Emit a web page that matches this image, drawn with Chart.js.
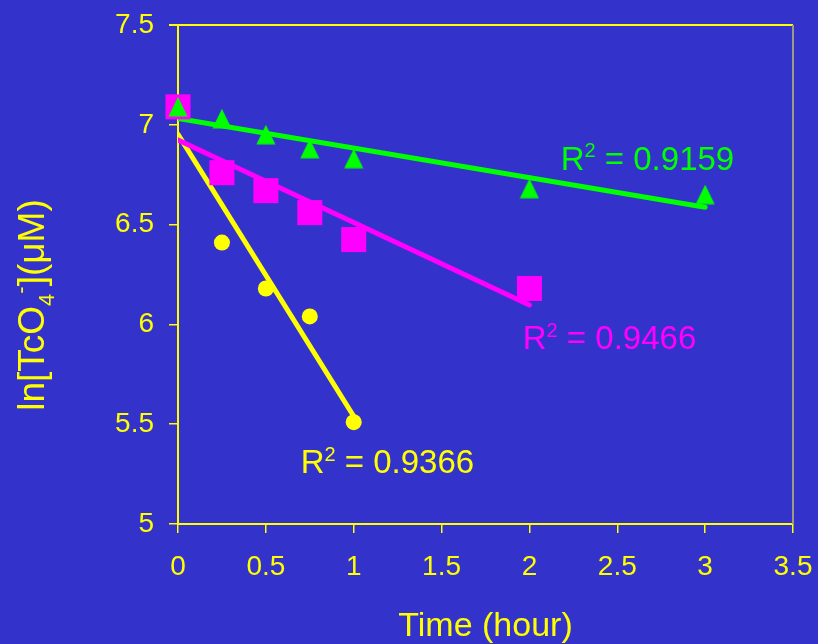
<!DOCTYPE html>
<html>
<head>
<meta charset="utf-8">
<script src="https://cdn.jsdelivr.net/npm/chart.js@4/dist/chart.umd.min.js"></script>
<style>
  html, body { margin: 0; padding: 0; background: #3333CC; }
  #wrap { width: 818px; height: 644px; }
</style>
</head>
<body>
<div id="wrap"><canvas id="c" width="818" height="644"></canvas></div>
<script>
// Sampling times (hours) and ln[TcO4-] readings for each run
const greenTime = [0, 0.25, 0.5, 0.75, 1, 2, 3];
const greenLn = [7.09, 7.03, 6.95, 6.88, 6.83, 6.68, 6.65];

const magentaTime = [0, 0.25, 0.5, 0.75, 1, 2];
const magentaLn = [7.09, 6.76, 6.67, 6.56, 6.425, 6.18];

const yellowTime = [0, 0.25, 0.5, 0.75, 1];
const yellowLn = [7.09, 6.41, 6.18, 6.04, 5.51];

// Coefficients of determination reported for each linear fit
const r2Values = ['0.9159', '0.9466', '0.9366'];

const YELLOW = '#FFFF00';
const GREEN = '#00FF00';
const MAGENTA = '#FF00FF';
const BG = '#3333CC';
const FONT = '"Liberation Sans", Arial, sans-serif';

// Least-squares line through (xs, ys), drawn over the measured time range
function trend(xs, ys) {
  const n = xs.length;
  const mx = xs.reduce((a, b) => a + b, 0) / n;
  const my = ys.reduce((a, b) => a + b, 0) / n;
  let sxy = 0, sxx = 0;
  for (let i = 0; i < n; i++) {
    sxy += (xs[i] - mx) * (ys[i] - my);
    sxx += (xs[i] - mx) * (xs[i] - mx);
  }
  const b = sxy / sxx;
  const a = my - b * mx;
  const x0 = Math.min(...xs), x1 = Math.max(...xs);
  return [{ x: x0, y: a + b * x0 }, { x: x1, y: a + b * x1 }];
}

function pairs(xs, ys) { return xs.map((x, i) => ({ x, y: ys[i] })); }

// Upright triangle marker, slightly taller than wide
function triangleMarker(color) {
  const c = document.createElement('canvas');
  c.width = 20; c.height = 20;
  const g = c.getContext('2d');
  g.fillStyle = color;
  g.beginPath();
  g.moveTo(10, 0);
  g.lineTo(19.5, 19.5);
  g.lineTo(0.5, 19.5);
  g.closePath();
  g.fill();
  return c;
}

// Let the layout padding alone decide where the plot area sits
function noLabelPadding(s) {
  s.paddingTop = 0; s.paddingBottom = 0;
  s.paddingLeft = 0; s.paddingRight = 0;
}

const bgPlugin = {
  id: 'bg',
  beforeDraw(chart) {
    const ctx = chart.ctx;
    ctx.save();
    ctx.fillStyle = BG;
    ctx.fillRect(0, 0, chart.width, chart.height);
    ctx.restore();
  }
};

// Top and right frame of the plot area
const framePlugin = {
  id: 'frame',
  beforeDatasetsDraw(chart) {
    const { ctx, chartArea: a } = chart;
    ctx.save();
    ctx.strokeStyle = YELLOW;
    ctx.lineWidth = 2;
    ctx.beginPath();
    ctx.moveTo(a.left - 9, a.top);
    ctx.lineTo(a.right, a.top);
    ctx.stroke();
    ctx.strokeStyle = '#9C9A82';
    ctx.beginPath();
    ctx.moveTo(a.right, a.top);
    ctx.lineTo(a.right, a.bottom);
    ctx.stroke();
    ctx.restore();
  }
};

// R² annotations beside each fit (anchors in data units: left edge, baseline)
const r2Anchors = [
  { x: 2.178, y: 6.774, color: GREEN, value: r2Values[0] },
  { x: 1.962, y: 5.875, color: MAGENTA, value: r2Values[1] },
  { x: 0.698, y: 5.254, color: YELLOW, value: r2Values[2] }
];

const textPlugin = {
  id: 'texts',
  afterDraw(chart) {
    const { ctx, chartArea: a, scales } = chart;
    ctx.save();
    ctx.textBaseline = 'alphabetic';
    ctx.textAlign = 'left';

    r2Anchors.forEach(l => {
      let px = scales.x.getPixelForValue(l.x);
      const py = scales.y.getPixelForValue(l.y);
      ctx.fillStyle = l.color;
      ctx.font = '33px ' + FONT;
      ctx.fillText('R', px, py);
      px += ctx.measureText('R').width;
      ctx.font = '20px ' + FONT;
      ctx.fillText('2', px, py - 12.5);
      px += ctx.measureText('2').width;
      ctx.font = '33px ' + FONT;
      ctx.fillText(' = ' + l.value, px, py);
    });

    // x axis title
    ctx.fillStyle = YELLOW;
    ctx.font = '34px ' + FONT;
    ctx.textAlign = 'center';
    ctx.fillText('Time (hour)', (a.left + a.right) / 2, 636);

    // y axis title with subscript 4 and superscript minus
    const parts = [
      { t: 'ln[TcO', f: 37, dy: 0 },
      { t: '4', f: 22, dy: 10 },
      { t: '-', f: 22, dy: -16 },
      { t: '](\u03BCM)', f: 37, dy: 0 }
    ];
    ctx.textAlign = 'left';
    let total = 0;
    parts.forEach(p => { ctx.font = p.f + 'px ' + FONT; p.w = ctx.measureText(p.t).width; total += p.w; });
    ctx.translate(44, 305);
    ctx.rotate(-Math.PI / 2);
    let u = -total / 2;
    parts.forEach(p => {
      ctx.font = p.f + 'px ' + FONT;
      ctx.fillText(p.t, u, p.dy);
      u += p.w;
    });
    ctx.restore();
  }
};

const lineStyle = (color) => ({
  type: 'line',
  borderColor: color,
  borderWidth: 5,
  borderCapStyle: 'round',
  pointRadius: 0,
  fill: false,
  tension: 0
});

const tickText = (v) => String(v);

new Chart(document.getElementById('c'), {
  type: 'scatter',
  data: {
    datasets: [
      {
        label: 'green',
        data: pairs(greenTime, greenLn),
        pointStyle: triangleMarker(GREEN),
        pointRadius: 10,
        backgroundColor: GREEN,
        borderWidth: 0,
        clip: false,
        order: 0
      },
      {
        label: 'magenta',
        data: pairs(magentaTime, magentaLn),
        pointStyle: 'rect',
        pointRadius: 17.7,
        backgroundColor: MAGENTA,
        borderWidth: 0,
        pointBorderWidth: 0,
        clip: false,
        order: 1
      },
      {
        label: 'yellow',
        data: pairs(yellowTime, yellowLn),
        pointStyle: 'circle',
        pointRadius: 8,
        backgroundColor: YELLOW,
        borderWidth: 0,
        pointBorderWidth: 0,
        clip: false,
        order: 2
      },
      Object.assign({ label: 'green fit', data: trend(greenTime, greenLn), order: 3 }, lineStyle(GREEN)),
      Object.assign({ label: 'magenta fit', data: trend(magentaTime, magentaLn), order: 4 }, lineStyle(MAGENTA)),
      Object.assign({ label: 'yellow fit', data: trend(yellowTime, yellowLn), order: 5 }, lineStyle(YELLOW))
    ]
  },
  options: {
    responsive: false,
    animation: false,
    layout: { padding: { top: 25, right: 25, left: 0, bottom: 0 } },
    plugins: {
      legend: { display: false },
      tooltip: { enabled: false }
    },
    scales: {
      x: {
        type: 'linear',
        min: 0, max: 3.5,
        afterFit(s) { s.height = 120; noLabelPadding(s); },
        ticks: { stepSize: 0.5, color: YELLOW, font: { family: FONT, size: 28 }, padding: 17, maxRotation: 0, callback: tickText },
        grid: { drawOnChartArea: false, drawTicks: true, tickLength: 9, color: YELLOW, lineWidth: 1.5 },
        border: { color: YELLOW, width: 2 }
      },
      y: {
        type: 'linear',
        min: 5, max: 7.5,
        afterFit(s) { s.width = 178; noLabelPadding(s); },
        ticks: { stepSize: 0.5, color: YELLOW, font: { family: FONT, size: 28 }, padding: 15, callback: tickText },
        grid: { drawOnChartArea: false, drawTicks: true, tickLength: 9, color: YELLOW, lineWidth: 1.5 },
        border: { color: YELLOW, width: 2 }
      }
    }
  },
  plugins: [bgPlugin, framePlugin, textPlugin]
});
</script>
</body>
</html>
